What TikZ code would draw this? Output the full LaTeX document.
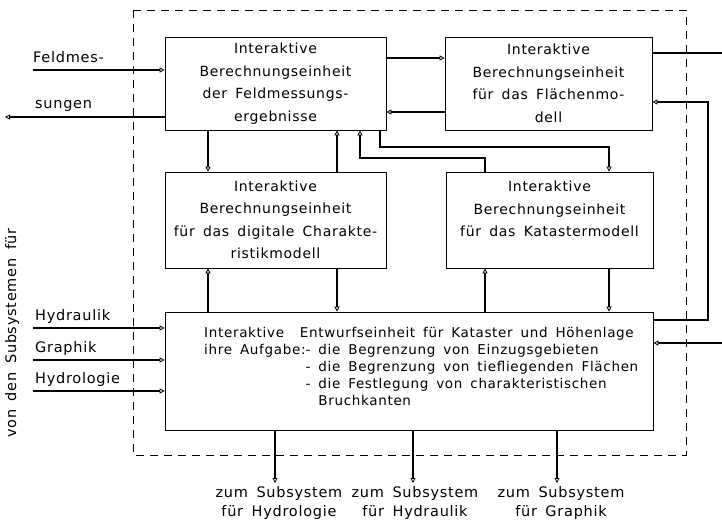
\documentclass[tikz,border=0pt]{standalone}
\usepackage{fontspec}
\setmainfont[LetterSpace=5, WordSpace=1.6]{DejaVu Sans}
\usetikzlibrary{arrows.meta}
\begin{document}
\begin{tikzpicture}[x=1pt,y=-1pt,
  box/.style={draw, line width=0.7pt, inner sep=0pt, align=center,
              font=\fontsize{14}{22.5}\selectfont},
  conn/.style={line width=1.3pt,
              -{Triangle[open,length=5pt,width=5pt,line width=0.8pt]}},
  plainline/.style={line width=1.3pt},
  lbl/.style={font=\fontsize{14.5}{19}\selectfont, inner sep=0pt},
  frame/.style={dash pattern=on 8pt off 6pt, line width=0.7pt}]
\useasboundingbox (0,0) rectangle (722,524);

% dashed frame
\draw[frame] (133,10) rectangle (686,455);

% boxes
\node[box, minimum width=221pt, minimum height=93pt] (A) at (275.5,83.5)
  {Interaktive\\Berechnungseinheit\\der Feldmessungs-\\ergebnisse};
\node[box, minimum width=207pt, minimum height=93pt] (B) at (548.5,83.5)
  {Interaktive\\Berechnungseinheit\\für das Flächenmo-\\dell};
\node[box, minimum width=221pt, minimum height=96pt] (C) at (275.5,220)
  {Interaktive\\Berechnungseinheit\\für das digitale Charakte-\\ristikmodell};
\node[box, minimum width=207pt, minimum height=96pt] (D) at (549.5,220)
  {Interaktive\\Berechnungseinheit\\für das Katastermodell\\\mbox{}};
\node[box, minimum width=488pt, minimum height=118pt] (E) at (409,371) {};
\node[anchor=west, inner sep=0pt, font=\fontsize{13.5}{17}\selectfont] (Etext) at (204,368)
  {\begin{tabular}{@{}l@{}l@{}}
   \multicolumn{2}{@{}l@{}}{Interaktive\ \ Entwurfseinheit für Kataster und Höhenlage}\\
   ihre Aufgabe: & - die Begrenzung von Einzugsgebieten\\
    & - die Begrenzung von tiefliegenden Flächen\\
    & - die Festlegung von charakteristischen\\
    & \hphantom{- }Bruchkanten
   \end{tabular}};

% helper coordinates
\coordinate (x208) at (208,0);
\coordinate (x337) at (337,0);
\coordinate (x360) at (360,0);
\coordinate (x380) at (380,0);
\coordinate (x485) at (485,0);
\coordinate (x609) at (609,0);
\coordinate (xR) at (708,0);
\coordinate (y58) at (0,58);
\coordinate (y112) at (0,112);
\coordinate (y102) at (0,102);
\coordinate (y320) at (0,320);
\coordinate (y147) at (0,147);
\coordinate (y158) at (0,158);
\coordinate (fin) at (33,70);
\coordinate (sout) at (5,117);
\coordinate (bout) at (722,53);
\coordinate (rin) at (722,343);
\coordinate (hin1) at (33,328);
\coordinate (hin2) at (33,360);
\coordinate (hin3) at (33,391);
\coordinate (o1) at (275,483);
\coordinate (o2) at (413,483);
\coordinate (o3) at (557,483);

% connectors
\draw[conn] (fin) -- (fin -| A.west);
\draw[conn] (A.west |- sout) -- (sout);
\draw[conn] (A.east |- y58) -- (B.west |- y58);
\draw[conn] (B.west |- y112) -- (A.east |- y112);
\draw[plainline] (B.east |- bout) -- (bout);
\draw[conn] (E.east |- y320) -- (xR |- y320) -- (xR |- y102) -- (B.east |- y102);
\draw[conn] (rin) -- (E.east |- rin);
\draw[conn] (A.south -| x208) -- (C.north -| x208);
\draw[conn] (C.north -| x337) -- (A.south -| x337);
\draw[conn] (D.north -| x485) -- (x485 |- y158) -- (x360 |- y158) -- (A.south -| x360);
\draw[conn] (A.south -| x380) -- (x380 |- y147) -- (x609 |- y147) -- (D.north -| x609);
\draw[conn] (E.north -| x208) -- (C.south -| x208);
\draw[conn] (C.south -| x337) -- (E.north -| x337);
\draw[conn] (E.north -| x485) -- (D.south -| x485);
\draw[conn] (D.south -| x609) -- (E.north -| x609);
\draw[conn] (hin1) -- (E.west |- hin1);
\draw[conn] (hin2) -- (E.west |- hin2);
\draw[conn] (hin3) -- (E.west |- hin3);
\draw[conn] (E.south -| o1) -- (o1);
\draw[conn] (E.south -| o2) -- (o2);
\draw[conn] (E.south -| o3) -- (o3);

% labels
\node[lbl, anchor=base west] (lfeld) at (33,63) {Feldmes-};
\node[lbl, anchor=base west] (lsung) at (35,109) {sungen};
\node[lbl, anchor=base west] (lhydr) at (35,320) {Hydraulik};
\node[lbl, anchor=base west] (lgra) at (35,352) {Graphik};
\node[lbl, anchor=base west] (lhyd) at (35,383) {Hydrologie};
\node[lbl, rotate=90] (vonden) at (12,333) {von den Subsystemen für};
\node[lbl, align=center, anchor=north] (out1) at (279,486) {zum Subsystem\\für Hydrologie};
\node[lbl, align=center, anchor=north] (out2) at (415,486) {zum Subsystem\\für Hydraulik};
\node[lbl, align=center, anchor=north] (out3) at (561,486) {zum Subsystem\\für Graphik};
\end{tikzpicture}
\end{document}
